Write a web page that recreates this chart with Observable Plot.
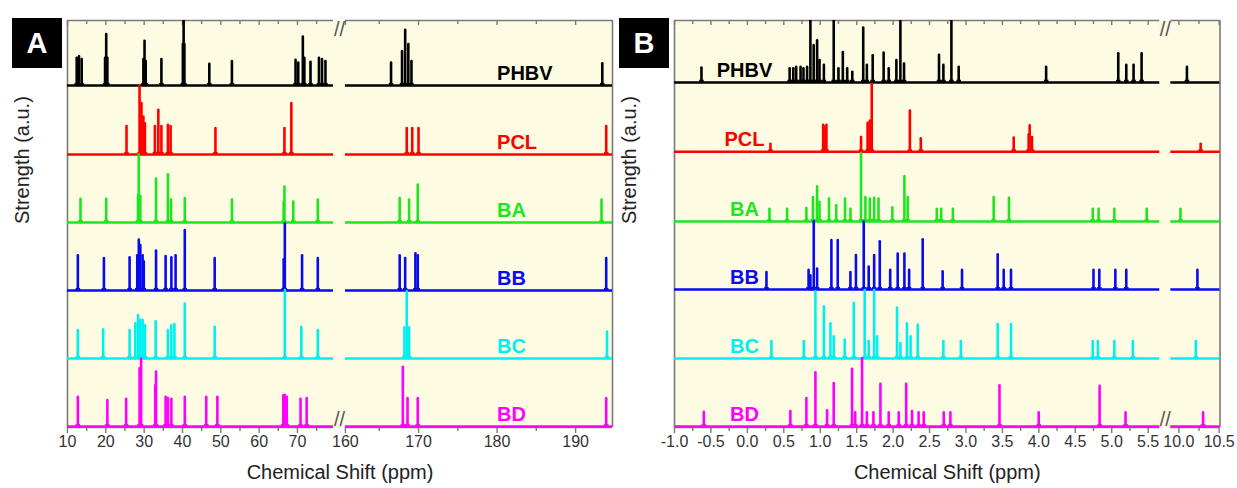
<!DOCTYPE html>
<html>
<head>
<meta charset="utf-8">
<script src="https://cdn.jsdelivr.net/npm/d3@7"></script>
<script src="https://cdn.jsdelivr.net/npm/@observablehq/plot@0.6"></script>
<style>
  html, body { margin: 0; padding: 0; background: #ffffff; }
  #wrap { position: relative; width: 1237px; height: 488px; overflow: hidden; font-family: "Liberation Sans", Arial, sans-serif; }
  #pa, #pb { position: absolute; top: 0; }
  #pa { left: 0; }
  #pb { left: 618px; }
  .tag { position: absolute; top: 18px; width: 50px; height: 50px; background: #000; color: #fff;
         font: bold 29px "Liberation Sans", Arial, sans-serif; display: flex; align-items: center; justify-content: center; }
</style>
</head>
<body>
<div id="wrap">
  <div id="pa"></div>
  <div id="pb"></div>
  <div class="tag" style="left:12px">A</div>
  <div class="tag" style="left:619px">B</div>
</div>
<script>
// ---------- data ----------
const seriesNames = ["PHBV", "PCL", "BA", "BB", "BC", "BD"];
const seriesColors = ["#000000", "#ff0000", "#1ee61e", "#0a0af0", "#00f0f0", "#ff00ff"];

// Panel A: 13C chemical shifts (ppm) and relative intensities
const phbvA = [[12.4,0.40],[13.0,0.42],[13.7,0.38],[19.8,0.40],[20.1,0.75],[20.4,0.40],[29.8,0.38],[30.1,0.65],[30.4,0.35],[34.5,0.38],[40.1,0.60],[40.3,1.0],[40.5,0.60],[47.0,0.31],[52.9,0.35],[69.5,0.37],[70.2,0.33],[71.4,0.71],[71.8,0.40],[73.4,0.34],[75.6,0.40],[76.4,0.38],[77.3,0.35],[166.5,0.33],[167.9,0.50],[168.3,0.81],[168.7,0.60],[169.1,0.35],[193.4,0.32]];
const pclA = [[25.4,0.41],[28.8,1.0],[29.3,0.75],[29.8,0.55],[30.2,0.45],[32.8,0.41],[33.7,0.65],[34.5,0.41],[36.2,0.43],[36.9,0.41],[48.6,0.38],[66.6,0.38],[68.4,0.75],[168.5,0.38],[169.2,0.38],[170.0,0.38],[193.9,0.41]];
const baA = [[13.4,0.34],[20.1,0.34],[28.4,0.40],[28.6,0.99],[29.0,0.38],[33.1,0.64],[36.2,0.70],[37.0,0.33],[40.6,0.35],[52.9,0.33],[66.4,0.30],[66.6,0.52],[68.9,0.30],[75.3,0.33],[167.6,0.35],[168.8,0.33],[169.9,0.55],[193.3,0.33]];
const bbA = [[12.7,0.51],[19.5,0.47],[26.2,0.48],[28.2,0.51],[28.6,0.74],[29.0,0.66],[29.6,0.51],[29.9,0.42],[33.1,0.58],[35.6,0.50],[37.1,0.48],[38.2,0.51],[40.6,0.88],[48.4,0.47],[66.4,0.45],[66.7,0.98],[71.2,0.51],[75.3,0.47],[167.6,0.51],[168.3,0.47],[169.6,0.54],[169.9,0.51],[193.9,0.47]];
const bcA = [[12.7,0.41],[19.3,0.42],[26.2,0.41],[27.7,0.51],[28.4,0.63],[29.0,0.56],[29.6,0.56],[30.2,0.48],[33.0,0.54],[36.2,0.41],[37.1,0.48],[37.9,0.50],[40.6,0.80],[48.4,0.46],[66.7,1.0],[71.0,0.46],[75.3,0.41],[168.2,0.45],[168.5,0.98],[168.8,0.45],[194.0,0.39]];
const bdA = [[12.7,0.43],[20.4,0.38],[25.3,0.40],[28.8,0.85],[29.2,0.99],[32.9,0.60],[33.1,0.80],[35.6,0.43],[36.2,0.41],[37.1,0.40],[40.6,0.43],[46.2,0.43],[49.1,0.43],[66.3,0.45],[66.7,0.46],[67.2,0.43],[70.8,0.40],[72.4,0.41],[168.0,0.87],[168.6,0.41],[169.9,0.41],[193.9,0.41]];

// Panel B: 1H chemical shifts (ppm) and relative intensities
const phbvB = [[-0.63,0.21],[0.58,0.20],[0.63,0.20],[0.67,0.22],[0.73,0.22],[0.77,0.20],[0.82,0.22],[0.865,1.0],[0.91,0.54],[0.957,0.61],[0.99,0.32],[1.05,0.25],[1.185,1.0],[1.25,0.20],[1.31,0.44],[1.37,0.20],[1.44,0.15],[1.59,0.80],[1.64,0.25],[1.72,0.39],[1.87,0.43],[1.94,0.20],[2.045,0.32],[2.10,1.0],[2.15,0.27],[2.63,0.40],[2.69,0.25],[2.80,1.0],[2.90,0.22],[4.10,0.22],[5.09,0.42],[5.20,0.25],[5.30,0.25],[5.41,0.42],[10.10,0.22]];
const pclB = [[0.317,0.11],[1.04,0.39],[1.06,0.36],[1.085,0.39],[1.56,0.21],[1.65,0.42],[1.68,0.45],[1.707,0.99],[2.23,0.60],[2.38,0.19],[3.655,0.20],[3.86,0.25],[3.874,0.38],[3.906,0.21],[10.27,0.11]];
const baB = [[0.303,0.18],[0.545,0.18],[0.81,0.19],[0.90,0.35],[0.957,0.51],[0.99,0.28],[1.12,0.33],[1.22,0.23],[1.34,0.33],[1.415,0.18],[1.56,1.0],[1.62,0.35],[1.68,0.33],[1.74,0.34],[1.80,0.33],[1.99,0.20],[2.155,0.66],[2.20,0.35],[2.60,0.18],[2.66,0.18],[2.82,0.18],[3.38,0.35],[3.59,0.34],[4.74,0.18],[4.82,0.18],[5.036,0.18],[5.48,0.18],[10.02,0.18]];
const bbB = [[0.262,0.25],[0.84,0.28],[0.865,0.20],[0.911,1.0],[0.957,0.30],[1.153,0.72],[1.24,0.72],[1.414,0.25],[1.49,0.50],[1.597,0.99],[1.665,0.33],[1.74,0.50],[1.817,0.70],[1.96,0.28],[2.063,0.52],[2.155,0.52],[2.22,0.28],[2.406,0.73],[2.68,0.26],[2.946,0.28],[3.435,0.51],[3.518,0.28],[3.618,0.28],[4.75,0.28],[4.83,0.28],[5.05,0.28],[5.20,0.28],[10.23,0.28]];
const bcB = [[0.33,0.25],[0.774,0.25],[0.934,0.98],[1.05,0.76],[1.14,0.51],[1.185,0.32],[1.336,0.27],[1.46,0.81],[1.61,1.0],[1.665,0.25],[1.74,1.0],[1.78,0.32],[2.054,0.74],[2.10,0.22],[2.19,0.51],[2.24,0.32],[2.338,0.49],[2.69,0.25],[2.93,0.25],[3.435,0.50],[3.618,0.50],[4.74,0.25],[4.81,0.25],[5.036,0.25],[5.29,0.25],[10.21,0.25]];
const bdB = [[-0.598,0.21],[0.59,0.22],[0.81,0.41],[0.934,0.79],[1.094,0.23],[1.185,0.63],[1.437,0.84],[1.48,0.20],[1.574,1.0],[1.64,0.20],[1.73,0.20],[1.826,0.62],[1.94,0.20],[2.077,0.20],[2.18,0.62],[2.26,0.22],[2.35,0.20],[2.42,0.20],[2.695,0.20],[2.786,0.20],[3.46,0.60],[3.998,0.20],[4.834,0.59],[5.19,0.20],[10.30,0.20]];

// axis segments (broken x axis) and ticks
const segmentsA = [[10, 79.4], [160.7, 194.7]];
const segmentsB = [[-1, 5.66], [9.9, 10.51]];
const majorTicksA = [10, 20, 30, 40, 50, 60, 70, 160, 170, 180, 190];
const minorTicksA = [15, 25, 35, 45, 55, 65, 75, 165, 175, 185];
const majorTicksB = [-1.0, -0.5, 0.0, 0.5, 1.0, 1.5, 2.0, 2.5, 3.0, 3.5, 4.0, 4.5, 5.0, 5.5, 10.0, 10.5];
const minorTicksB = [-0.75, -0.25, 0.25, 0.75, 1.25, 1.75, 2.25, 2.75, 3.25, 3.75, 4.25, 4.75, 5.25, 10.25];
const offsetsA = [5.015, 4.0, 3.0, 2.0, 1.0, 0.0];
const offsetsB = [5.06, 4.04, 3.015, 2.015, 1.0, 0.0];

// ---------- drawing ----------
const BG = "#fdfce2", FRAME = "#7a7a7a", TXT = "#333333";
const FONT = "'Liberation Sans', Arial, Helvetica, sans-serif";
const Y0 = -0.015, Y1 = 5.97, PXU = 68; // px per y unit

function panel(o) {
  const peaks = [], bases = [];
  o.series.forEach((arr, i) => {
    arr.forEach(([x, h]) => peaks.push({x, y1: o.offsets[i], y2: o.offsets[i] + h, yf: o.offsets[i] + Math.min(h, 0.03), c: seriesColors[i]}));
    o.segments.forEach(([a, b]) => bases.push({x1: a, x2: b, y: o.offsets[i], c: seriesColors[i]}));
  });
  const labels = seriesNames.map((n, i) => ({n, y: o.offsets[i], c: seriesColors[i]}));
  const frameH = o.segments.flatMap(([a, b]) => [{x1: a, x2: b, y: Y0}, {x1: a, x2: b, y: Y1}]);
  const xs = o.segments.flat();
  const xmin = xs[0], xmax = xs[xs.length - 1];
  return Plot.plot({
    width: o.width, height: 488,
    marginLeft: o.range[0], marginRight: o.width - o.range[o.range.length - 1],
    marginTop: 20, marginBottom: 61,
    x: {type: "linear", domain: xs, range: o.range, axis: null},
    y: {domain: [Y0, Y1], axis: null},
    color: {type: "identity"},
    style: {fontFamily: FONT, background: "transparent", overflow: "visible"},
    marks: [
      Plot.frame({fill: BG, stroke: "none"}),
      // frame lines
      Plot.ruleY(frameH, {x1: "x1", x2: "x2", y: "y", stroke: FRAME, strokeWidth: 1.6}),
      Plot.ruleX([xmin, xmax], {x: d => d, y1: Y0, y2: Y1, stroke: FRAME, strokeWidth: 1.6}),
      // top ticks (inward)
      Plot.ruleX(o.major, {x: d => d, y1: Y1, y2: Y1 - 5 / PXU, stroke: FRAME, strokeWidth: 1.4}),
      Plot.ruleX(o.minor, {x: d => d, y1: Y1, y2: Y1 - 4 / PXU, stroke: FRAME, strokeWidth: 1.4}),
      // bottom ticks (outward)
      Plot.ruleX(o.major, {x: d => d, y1: Y0, y2: Y0 - 6 / PXU, stroke: FRAME, strokeWidth: 1.4}),
      Plot.ruleX(o.minor, {x: d => d, y1: Y0, y2: Y0 - 4 / PXU, stroke: FRAME, strokeWidth: 1.4}),
      // spectra
      Plot.ruleY(bases, {x1: "x1", x2: "x2", y: "y", stroke: "c", strokeWidth: 2.5}),
      Plot.ruleX(peaks, {x: "x", y1: "y1", y2: "yf", stroke: "c", strokeWidth: 4.5, clip: true}),
      Plot.ruleX(peaks, {x: "x", y1: "y1", y2: "y2", stroke: "c", strokeWidth: 2.6, strokeLinecap: "round", clip: true}),
      // break marks
      Plot.text([o.breakX], {x: d => d, frameAnchor: "top", text: () => "//", fontSize: 20, fill: "#555", dy: 1}),
      Plot.text([o.breakX], {x: d => d, frameAnchor: "bottom", text: () => "//", fontSize: 20, fill: "#555", dy: -2}),
      // series labels
      Plot.text(labels, {x: o.labelX, y: "y", dy: -12, text: "n", fill: "c", fontSize: 20, fontWeight: "bold", textAnchor: o.labelAnchor}),
      // tick labels
      Plot.text(o.major, {x: d => d, frameAnchor: "bottom", dy: 19.5, text: o.fmt, fontSize: 16, fill: TXT}),
      // axis titles
      Plot.text([0], {frameAnchor: "bottom", dy: 51, text: () => "Chemical Shift (ppm)", fontSize: 20, fill: "#222"}),
      Plot.text([0], {frameAnchor: "left", rotate: -90, dx: o.yLabelDx, text: () => "Strength (a.u.)", fontSize: 20, fill: "#222"})
    ]
  });
}

document.getElementById("pa").appendChild(panel({
  width: 618,
  range: [67, 333, 345, 612],
  segments: segmentsA,
  series: [phbvA, pclA, baA, bbA, bcA, bdA],
  offsets: offsetsA,
  major: majorTicksA, minor: minorTicksA,
  fmt: d => String(d),
  breakX: 120,
  labelX: 180, labelAnchor: "start",
  yLabelDx: -44.5
}));

document.getElementById("pb").appendChild(panel({
  width: 619,
  range: [56, 541.3, 552.3, 601.5],
  segments: segmentsB,
  series: [phbvB, pclB, baB, bbB, bcB, bdB],
  offsets: offsetsB,
  major: majorTicksB, minor: minorTicksB,
  fmt: d => d.toFixed(1),
  breakX: 7.8,
  labelX: -0.04, labelAnchor: "middle",
  yLabelDx: -45
}));
</script>
</body>
</html>
